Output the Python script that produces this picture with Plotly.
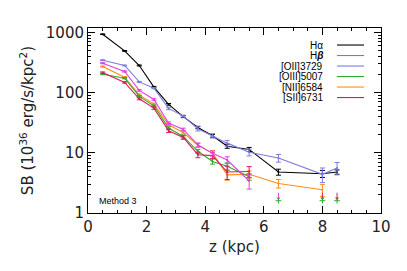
import plotly.graph_objects as go

z = [0.5, 1.25, 1.75, 2.25, 2.75, 3.25, 3.75, 4.25, 4.75, 5.5, 6.5, 8.0, 8.5]

ha = [937, 495, 283, 124, 64, 40, 26.4, 19.2, 12.9, 11.4, 4.8, 4.5, 4.8]
ha_err = [10, 8, 5, 3, 2, 1.5, 1.2, 1.0, 1.0, 0.9, 0.55, 0.6, 0.4]

oii = [347, 283, 151, 119, 54.7, 40.8, 25.1, 19.2, 14.5, 10.2, 8.2, 4.4, 5.6]
oii_err = [5, 4, 3, 3, 2.5, 1.5, 2.0, 1.6, 1.6, 1.3, 1.2, 1.2, 1.3]

z6 = [0.5, 1.25, 1.75, 2.25, 2.75, 3.25, 3.75, 4.25, 4.75, 5.5]
hb = [309, 225, 109, 77, 31.2, 24.5, 13.6, 9.8, 7.6, 3.4]
hb_err = [6, 5, 3, 2.5, 1.5, 1.2, 1.0, 0.9, 1.0, 0.9]

oiii = [203, 174, 86.5, 60.5, 25.8, 18.7, 10.6, 7.2, 6.0, 4.0]
oiii_err = [4, 4, 2.5, 2, 1.2, 1.0, 0.8, 0.7, 0.8, 0.5]

sii = [216, 148, 79, 55.4, 23.3, 18.0, 9.3, 9.0, 4.8, 4.9]
sii_err = [5, 4, 3, 2.5, 1.5, 1.2, 1.0, 1.0, 1.2, 1.0]

z_nii = [0.5, 1.25, 1.75, 2.25, 2.75, 3.25, 3.75, 4.25, 4.75, 5.5, 6.5, 8.0]
nii = [272, 181, 92, 64.5, 29.3, 21.8, 13.3, 9.9, 4.3, 4.4, 3.1, 2.44]
nii_err = [5, 4, 3, 2.5, 1.5, 1.2, 1.0, 1.0, 0.8, 0.6, 0.5, 0.55]

# upper limits
z_lim_hb = [6.5]
lim_hb = [1.75]
z_lim_sii = [8.0, 8.5]
lim_sii = [1.75, 1.75]
z_lim_oiii = [6.5, 8.0, 8.5]
lim_oiii = [1.6, 1.6, 1.6]

labels = ["H\u03b1", "H<b><i>\u03b2</i></b>", "[OII]3729", "[OIII]5007", "[NII]6584", "[SII]6731"]
colors = ["#000000", "#e040e0", "#7c7ce0", "#2ea82e", "#ff8c1a", "#d81b5a"]

fig = go.Figure()

def add(x, y, err, color):
    fig.add_trace(go.Scatter(
        x=x, y=y, mode="lines+markers",
        line=dict(color=color, width=1.1),
        marker=dict(size=2, color=color),
        error_y=dict(type="data", array=err, color=color, thickness=1, width=2.5),
        showlegend=False))

add(z, ha, ha_err, colors[0])
add(z, oii, oii_err, colors[2])
add(z_nii, nii, nii_err, colors[4])
add(z6, oiii, oiii_err, colors[3])
add(z6, sii, sii_err, colors[5])
add(z6, hb, hb_err, colors[1])

def add_lim(x, y, color):
    fig.add_trace(go.Scatter(
        x=x, y=y, mode="markers",
        marker=dict(symbol="triangle-down", size=3.5, color=color),
        error_y=dict(type="data", array=[0.42] * len(y), arrayminus=[0] * len(y),
                     color=color, thickness=1, width=0),
        showlegend=False))

add_lim(z_lim_hb, lim_hb, colors[1])
add_lim(z_lim_sii, lim_sii, colors[5])
fig.add_trace(go.Scatter(
    x=z_lim_oiii, y=lim_oiii, mode="markers",
    marker=dict(symbol="cross-thin", size=4, line=dict(color=colors[3], width=1)),
    showlegend=False))

# manual legend (text right, line right of text)
y0 = 0.908
dy = 0.0568
for i, (lab, col) in enumerate(zip(labels, colors)):
    yy = y0 - i * dy
    fig.add_annotation(x=0.81, y=yy, xref="paper", yref="paper", text=lab,
                       showarrow=False, xanchor="right", yanchor="middle",
                       font=dict(size=10, color="black", family="Liberation Sans"))
    fig.add_shape(type="line", xref="paper", yref="paper", x0=0.85, x1=0.942,
                  y0=yy, y1=yy, line=dict(color=col, width=1.1))

fig.add_annotation(x=0.03, y=0.065, xref="paper", yref="paper", text="Method 3",
                   showarrow=False, xanchor="left", yanchor="middle",
                   font=dict(size=9, color="black", family="Liberation Sans"))

FONT = "DejaVu Sans"
axis_common = dict(showline=True, linecolor="black", linewidth=1, mirror="allticks",
                   ticks="inside", ticklen=7, tickcolor="black", showgrid=False,
                   zeroline=False,
                   tickfont=dict(size=15, family=FONT, color="#222"))

fig.update_xaxes(range=[0, 10], tickvals=[0, 2, 4, 6, 8, 10],
                 minor=dict(dtick=0.5, ticks="inside", ticklen=3, tickcolor="black"),
                 title=dict(text="z (kpc)", font=dict(size=15, family=FONT, color="#222"), standoff=6),
                 **axis_common)
fig.update_yaxes(type="log", range=[0, 3.075], tickvals=[1, 10, 100, 1000],
                 ticktext=["1", "10", "100", "1000"],
                 minor=dict(ticks="inside", ticklen=3, tickcolor="black",
                            tickvals=[2, 3, 4, 5, 6, 7, 8, 9, 20, 30, 40, 50, 60, 70, 80, 90,
                                      200, 300, 400, 500, 600, 700, 800, 900]),
                 title=dict(text="SB (10<sup>36</sup> erg/s/kpc<sup>2</sup>)",
                            font=dict(size=15, family=FONT, color="#222"), standoff=8),
                 **axis_common)

fig.update_layout(width=407, height=271, margin=dict(l=88, r=26, t=28, b=58),
                  plot_bgcolor="white", paper_bgcolor="white", showlegend=False)

fig.write_html("out.html", config={"displayModeBar": False},
               post_script="document.body.style.margin='0';document.body.style.overflow='hidden';")
